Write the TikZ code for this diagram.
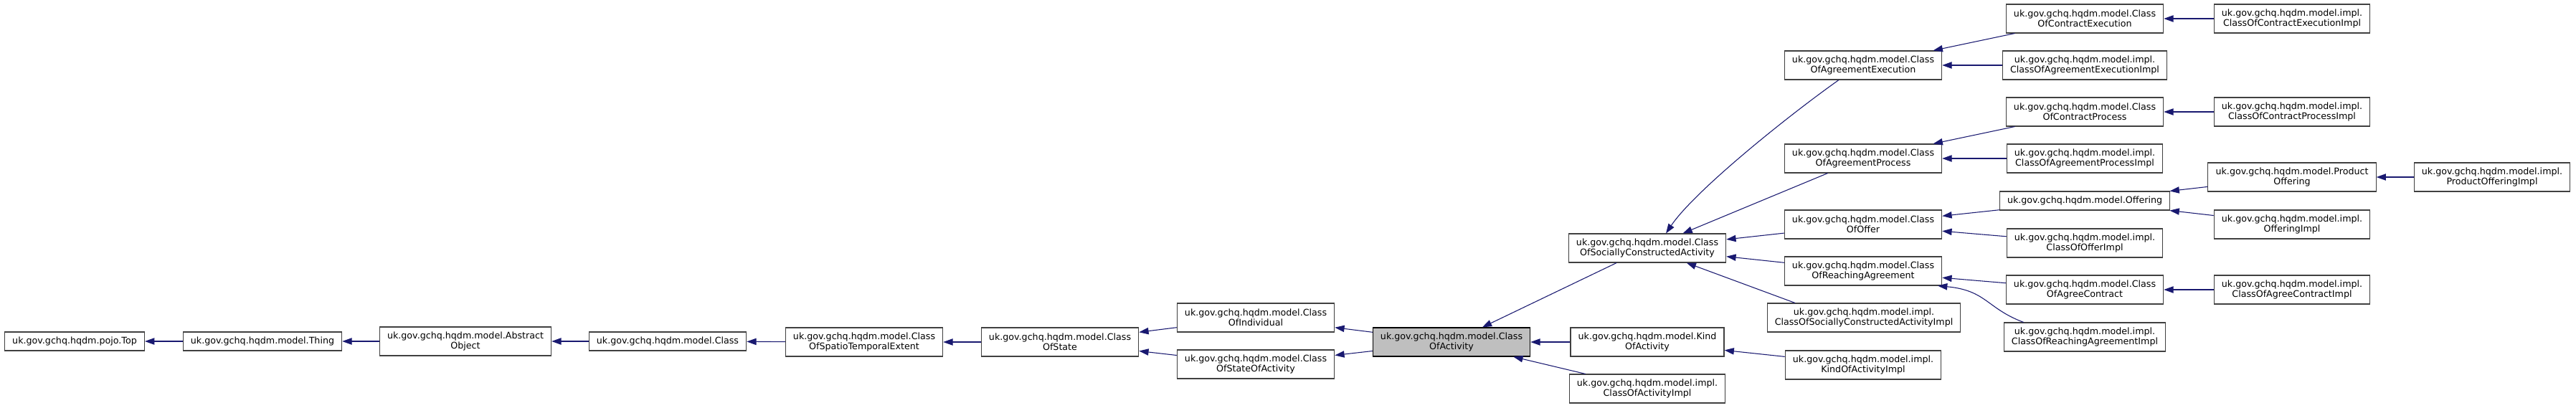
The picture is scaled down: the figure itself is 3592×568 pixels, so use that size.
\documentclass[tikz,border=0pt]{standalone}
\usepackage{fontspec}
\setmainfont{DejaVu Sans}
\usetikzlibrary{arrows.meta}
\definecolor{edgeblue}{RGB}{25,25,112}
\definecolor{boxline}{RGB}{64,64,64}
\definecolor{focusgray}{RGB}{191,191,191}

\begin{document}
\begin{tikzpicture}[x=0.75pt, y=-0.75pt, >={Triangle[length=10pt,width=7pt]},
  classbox/.style={draw=boxline, line width=0.8pt, fill=white, align=center,
    inner xsep=8pt, inner ysep=2pt, minimum height=19.5pt,
    font=\fontsize{9.5}{10.5}\selectfont},
  twoline/.style={minimum height=30pt},
  focusbox/.style={classbox, draw=black, fill=focusgray},
  derive/.style={->, draw=edgeblue, line width=0.8pt}]
  \useasboundingbox (0,0) rectangle (3592,568);

  % Base chain
  \node[classbox] (top) at (104,476) {uk.gov.gchq.hqdm.pojo.Top};
  \node[classbox] (thing) at (366,476) {uk.gov.gchq.hqdm.model.Thing};
  \node[classbox, twoline] (abstractobj) at (649,476) {uk.gov.gchq.hqdm.model.Abstract\\Object};
  \node[classbox] (cls) at (931,476) {uk.gov.gchq.hqdm.model.Class};
  \node[classbox, twoline] (costextent) at (1205,477) {uk.gov.gchq.hqdm.model.Class\\OfSpatioTemporalExtent};
  \node[classbox, twoline] (costate) at (1478,477) {uk.gov.gchq.hqdm.model.Class\\OfState};
  \node[classbox, twoline] (coindiv) at (1751,443) {uk.gov.gchq.hqdm.model.Class\\OfIndividual};
  \node[classbox, twoline] (costateact) at (1751,508) {uk.gov.gchq.hqdm.model.Class\\OfStateOfActivity};
  \node[focusbox, twoline] (coact) at (2024,477) {uk.gov.gchq.hqdm.model.Class\\OfActivity};

  % Direct subclasses
  \node[classbox, twoline] (cosca) at (2297,346) {uk.gov.gchq.hqdm.model.Class\\OfSociallyConstructedActivity};
  \node[classbox, twoline] (kindact) at (2297,477) {uk.gov.gchq.hqdm.model.Kind\\OfActivity};
  \node[classbox, twoline] (coactimpl) at (2297,542) {uk.gov.gchq.hqdm.model.impl.\\ClassOfActivityImpl};

  % Third column
  \node[classbox, twoline] (coagrexec) at (2598,91) {uk.gov.gchq.hqdm.model.Class\\OfAgreementExecution};
  \node[classbox, twoline] (coagrproc) at (2598,221) {uk.gov.gchq.hqdm.model.Class\\OfAgreementProcess};
  \node[classbox, twoline] (cooffer) at (2598,313) {uk.gov.gchq.hqdm.model.Class\\OfOffer};
  \node[classbox, twoline] (coreach) at (2598,378) {uk.gov.gchq.hqdm.model.Class\\OfReachingAgreement};
  \node[classbox, twoline] (coscaimpl) at (2599,443) {uk.gov.gchq.hqdm.model.impl.\\ClassOfSociallyConstructedActivityImpl};
  \node[classbox, twoline] (kindactimpl) at (2598,509) {uk.gov.gchq.hqdm.model.impl.\\KindOfActivityImpl};

  % Fourth column
  \node[classbox, twoline] (cocontrexec) at (2907,26) {uk.gov.gchq.hqdm.model.Class\\OfContractExecution};
  \node[classbox, twoline] (coagrexecimpl) at (2907,91) {uk.gov.gchq.hqdm.model.impl.\\ClassOfAgreementExecutionImpl};
  \node[classbox, twoline] (cocontrproc) at (2907,156) {uk.gov.gchq.hqdm.model.Class\\OfContractProcess};
  \node[classbox, twoline] (coagrprocimpl) at (2907,221) {uk.gov.gchq.hqdm.model.impl.\\ClassOfAgreementProcessImpl};
  \node[classbox] (offering) at (2907,280) {uk.gov.gchq.hqdm.model.Offering};
  \node[classbox, twoline] (cofferimpl) at (2907,339) {uk.gov.gchq.hqdm.model.impl.\\ClassOfOfferImpl};
  \node[classbox, twoline] (coagreecontr) at (2907,404) {uk.gov.gchq.hqdm.model.Class\\OfAgreeContract};
  \node[classbox, twoline] (coreachimpl) at (2907,470) {uk.gov.gchq.hqdm.model.impl.\\ClassOfReachingAgreementImpl};

  % Right columns
  \node[classbox, twoline] (cocontrexecimpl) at (3196,26) {uk.gov.gchq.hqdm.model.impl.\\ClassOfContractExecutionImpl};
  \node[classbox, twoline] (cocontrprocimpl) at (3196,156) {uk.gov.gchq.hqdm.model.impl.\\ClassOfContractProcessImpl};
  \node[classbox, twoline] (prodoffer) at (3196,247) {uk.gov.gchq.hqdm.model.Product\\Offering};
  \node[classbox, twoline] (offeringimpl) at (3196,313) {uk.gov.gchq.hqdm.model.impl.\\OfferingImpl};
  \node[classbox, twoline] (coagreecontrimpl) at (3196,404) {uk.gov.gchq.hqdm.model.impl.\\ClassOfAgreeContractImpl};
  \node[classbox, twoline] (prodofferimpl) at (3475,247) {uk.gov.gchq.hqdm.model.impl.\\ProductOfferingImpl};

  % Inheritance edges
  \draw[derive] (thing) -- (top);
  \draw[derive] (abstractobj) -- (thing);
  \draw[derive] (cls) -- (abstractobj);
  \draw[derive] (costextent) -- (cls);
  \draw[derive] (costate) -- (costextent);
  \draw[derive] (coindiv) -- (costate);
  \draw[derive] (costateact) -- (costate);
  \draw[derive] (coact) -- (coindiv);
  \draw[derive] (coact) -- (costateact);
  \draw[derive] (cosca) -- (coact);
  \draw[derive] (kindact) -- (coact);
  \draw[derive] (coactimpl) -- (coact);

  \draw[derive] ([xshift=-25.5pt]coagrexec.south) .. controls (2494,161) and (2363,266) .. ([xshift=19.5pt]cosca.north);
  \draw[derive] (coagrproc) -- (cosca);
  \draw[derive] (cooffer) -- (cosca);
  \draw[derive] (coreach) -- (cosca);
  \draw[derive] ([xshift=-72pt]coscaimpl.north) -- ([xshift=41pt]cosca.south);
  \draw[derive] (kindactimpl) -- (kindact);

  \draw[derive] (cocontrexec) -- (coagrexec);
  \draw[derive] (coagrexecimpl) -- (coagrexec);
  \draw[derive] (cocontrexecimpl) -- (cocontrexec);
  \draw[derive] (cocontrproc) -- (coagrproc);
  \draw[derive] (coagrprocimpl) -- (coagrproc);
  \draw[derive] (cocontrprocimpl) -- (cocontrproc);
  \draw[derive] (offering) -- (cooffer);
  \draw[derive] (cofferimpl) -- (cooffer);
  \draw[derive] (prodoffer) -- (offering);
  \draw[derive] (offeringimpl) -- (offering);
  \draw[derive] (prodofferimpl) -- (prodoffer);
  \draw[derive] (coagreecontr) -- (coreach);
  \draw[derive] ([xshift=-64pt]coreachimpl.north) .. controls (2770,430) and (2770,405) .. ([xshift=78pt]coreach.south);
  \draw[derive] (coagreecontrimpl) -- (coagreecontr);
\end{tikzpicture}
\end{document}
